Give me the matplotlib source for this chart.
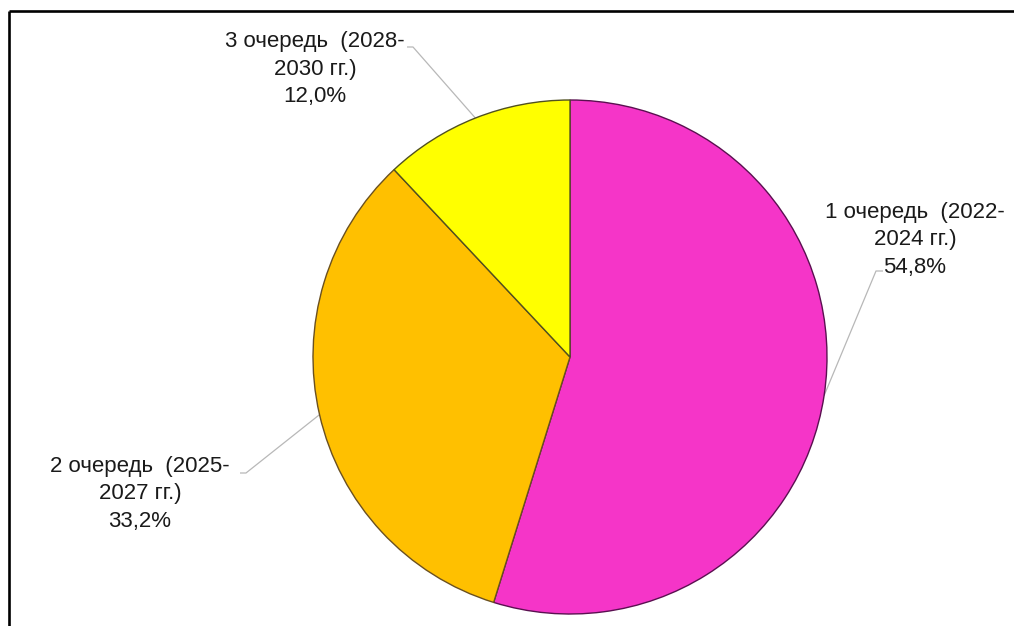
import numpy as np
import matplotlib
matplotlib.use("Agg")
import matplotlib.pyplot as plt

plt.rcParams['font.family'] = ['Liberation Sans', 'DejaVu Sans']

# Distribution of the programme by stage
stages = ["1 очередь  (2022-\n2024 гг.)", "2 очередь  (2025-\n2027 гг.)", "3 очередь  (2028-\n2030 гг.)"]
shares = [54.8, 33.2, 12.0]
pct_labels = ["54,8%", "33,2%", "12,0%"]

colors = ["#F535C8", "#FFC000", "#FFFF00"]
edges = ["#5a1050", "#6a5020", "#505020"]

W, H = 1014, 626
fig = plt.figure(figsize=(W / 100, H / 100), dpi=100)
ax = fig.add_axes([0, 0, 1, 1])

cx, cy, r = 570, H - 357, 257
wedges, _ = ax.pie(shares, colors=colors, startangle=90, counterclock=False,
                   center=(cx, cy), radius=r, frame=True,
                   wedgeprops=dict(linewidth=1.0))
for w, ec in zip(wedges, edges):
    w.set_edgecolor(ec)
ax.set_xlim(0, W)
ax.set_ylim(0, H)
ax.set_aspect('equal')
ax.axis('off')

# label text anchors (centre of block) and leader-line elbows
label_pos = [(915, H - 240), (140, H - 494), (315, H - 69)]
elbows = [((883, H - 271), (876, H - 271)),
          ((240, H - 473), (246, H - 473)),
          ((407, H - 47), (413, H - 47))]

for w, name, pct, (tx, ty), (e0, e1) in zip(wedges, stages, pct_labels, label_pos, elbows):
    mid = np.deg2rad((w.theta1 + w.theta2) / 2)
    px, py = cx + r * np.cos(mid), cy + r * np.sin(mid)
    ax.plot([e0[0], e1[0], px], [e0[1], e1[1], py], color="#b8b8b8", lw=0.9,
            solid_capstyle='butt', zorder=0)
    ax.text(tx, ty, name + "\n" + pct, ha='center', va='center', fontsize=16,
            linespacing=1.43, color="#1a1a1a")

# chart border (top and left edges visible)
ax.plot([9, W + 5], [H - 11, H - 11], color='black', lw=1.9, solid_capstyle='butt')
ax.plot([9, 9], [-5, H - 11], color='black', lw=1.9, solid_capstyle='butt')

fig.savefig("out.png", dpi=100)
